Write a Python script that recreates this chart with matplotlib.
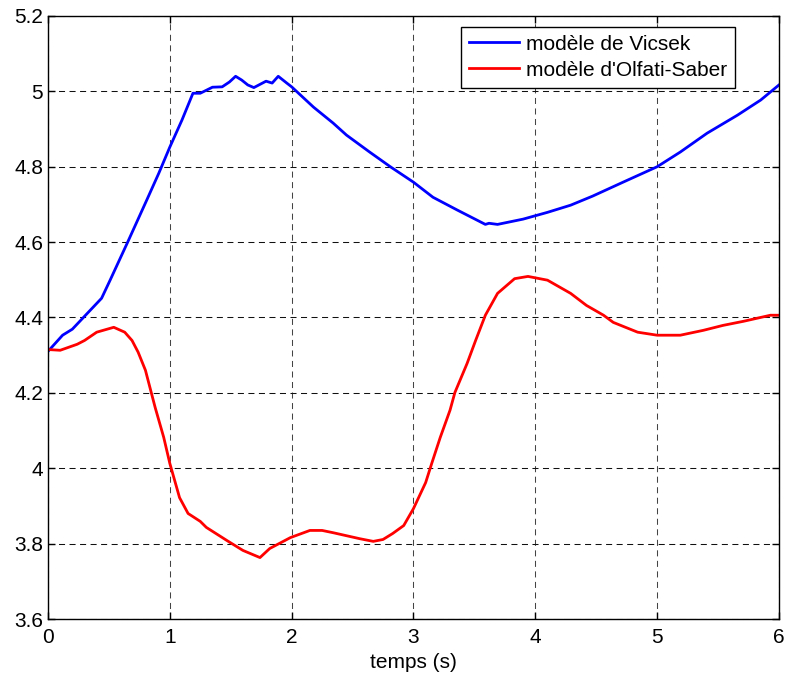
import numpy as np
import matplotlib
matplotlib.use('Agg')
import matplotlib.pyplot as plt

plt.rcParams['font.family'] = ['Liberation Sans', 'DejaVu Sans']

# modele de Vicsek
t_vicsek = [0.0, 0.12, 0.2, 0.44, 0.51, 0.65, 0.81, 0.91, 1.0, 1.1, 1.19, 1.25,
            1.35, 1.43, 1.49, 1.54, 1.59, 1.64, 1.69, 1.79, 1.84, 1.89, 1.96,
            2.0, 2.18, 2.34, 2.45, 2.64, 2.81, 3.0, 3.16, 3.36, 3.59, 3.62,
            3.69, 3.9, 4.1, 4.29, 4.47, 4.72, 5.0, 5.19, 5.41, 5.66, 5.85, 6.0]
v_vicsek = [4.31, 4.353, 4.369, 4.451, 4.499, 4.597, 4.711, 4.783, 4.852, 4.924,
            4.995, 4.995, 5.011, 5.012, 5.025, 5.04, 5.03, 5.017, 5.01, 5.027,
            5.022, 5.04, 5.022, 5.012, 4.958, 4.916, 4.884, 4.839, 4.80, 4.759,
            4.719, 4.685, 4.647, 4.65, 4.647, 4.661, 4.679, 4.698, 4.722, 4.759,
            4.80, 4.839, 4.889, 4.937, 4.977, 5.017]

# modele d'Olfati-Saber
t_olfati = [0.0, 0.1, 0.24, 0.3, 0.4, 0.54, 0.63, 0.69, 0.74, 0.8, 0.88, 0.95,
            1.0, 1.08, 1.15, 1.25, 1.3, 1.47, 1.6, 1.74, 1.82, 1.99, 2.15, 2.25,
            2.34, 2.56, 2.67, 2.75, 2.83, 2.92, 3.0, 3.1, 3.15, 3.22, 3.3, 3.34,
            3.44, 3.51, 3.59, 3.69, 3.83, 3.94, 4.1, 4.29, 4.42, 4.56, 4.64,
            4.84, 5.0, 5.19, 5.38, 5.54, 5.71, 5.93, 6.0]
v_olfati = [4.315, 4.313, 4.329, 4.339, 4.361, 4.374, 4.361, 4.339, 4.308, 4.26,
            4.161, 4.082, 4.013, 3.922, 3.88, 3.859, 3.843, 3.808, 3.782, 3.763,
            3.787, 3.816, 3.835, 3.835, 3.829, 3.813, 3.806, 3.811, 3.827, 3.848,
            3.893, 3.962, 4.013, 4.082, 4.154, 4.201, 4.278, 4.339, 4.406, 4.464,
            4.503, 4.509, 4.499, 4.464, 4.432, 4.406, 4.387, 4.361, 4.353, 4.353,
            4.366, 4.379, 4.39, 4.406, 4.406]

fig = plt.figure(figsize=(7.89, 6.8), dpi=100)
ax = fig.add_axes([0.0608, 0.0897, 0.9265, 0.8868])

ax.plot(t_vicsek, v_vicsek, color='#0000ff', lw=2, label='modèle de Vicsek')
ax.plot(t_olfati, v_olfati, color='#ff0000', lw=2, label="modèle d'Olfati-Saber")

ax.set_xlim(0, 6)
ax.set_ylim(3.6, 5.2)
ax.set_xticks(np.arange(0, 7, 1))
ax.set_yticks(np.arange(3.6, 5.21, 0.2))
ax.set_xticklabels(['0', '1', '2', '3', '4', '5', '6'])
ax.set_yticklabels(['3.6', '3.8', '4', '4.2', '4.4', '4.6', '4.8', '5', '5.2'])
ax.tick_params(direction='in', top=True, right=True, labelsize=15, length=5, width=1)
ax.tick_params(axis='x', pad=6.5)
ax.tick_params(axis='y', pad=3.5)
ax.xaxis.grid(True, color='#444444', linestyle=(0, (5.8, 4.3)), linewidth=0.75)
ax.yaxis.grid(True, color='#111111', linestyle=(0, (5.8, 4.3)), linewidth=0.75)
for s in ax.spines.values():
    s.set_linewidth(1)
ax.set_xlabel('temps (s)', fontsize=15, labelpad=4.5)

leg = ax.legend(loc='upper right', bbox_to_anchor=(0.94, 0.982), fontsize=15,
                fancybox=False, framealpha=1, edgecolor='black', borderpad=0.38,
                borderaxespad=0, handlelength=2.4, handletextpad=0.35,
                labelspacing=0.33)
leg.get_frame().set_linewidth(1)

fig.savefig('out.png', dpi=100)
